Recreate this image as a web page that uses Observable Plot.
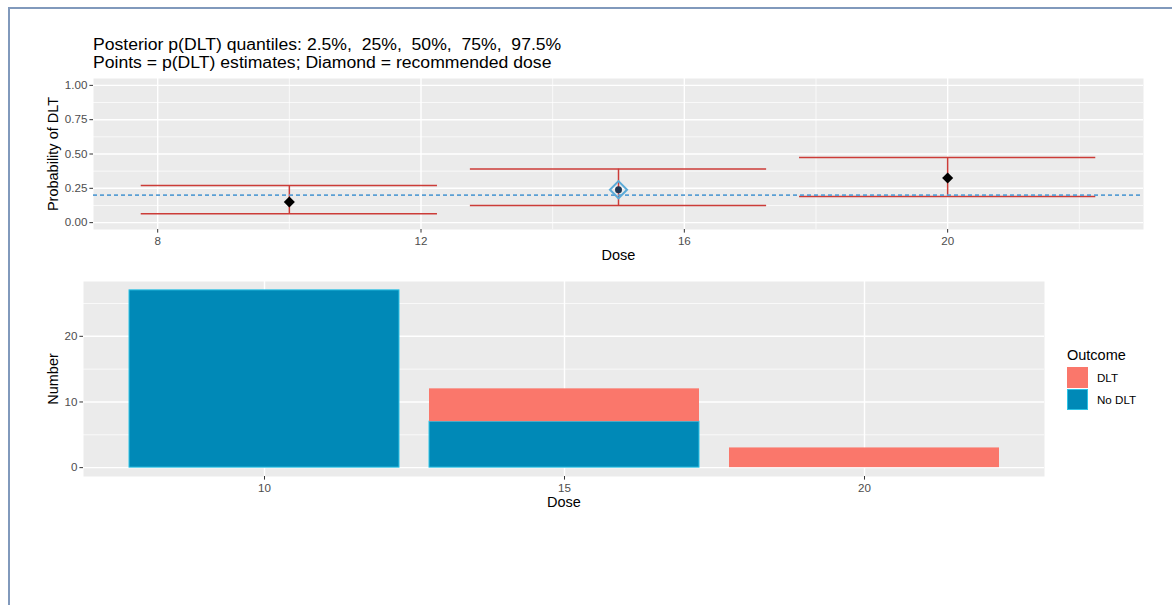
<!DOCTYPE html>
<html>
<head>
<meta charset="utf-8">
<script src="https://cdn.jsdelivr.net/npm/d3@7"></script>
<script src="https://cdn.jsdelivr.net/npm/@observablehq/plot@0.6"></script>
<style>
  body { margin: 0; background: #fff; font-family: "Liberation Sans", Arial, sans-serif; }
  #wrap { position: relative; width: 1172px; height: 605px; overflow: hidden; }
  #frame { position: absolute; left: 8px; top: 7px; right: -10px; bottom: -10px;
           border-left: 2px solid #8199bc; border-top: 2px solid #8199bc; }
  .abs { position: absolute; }
  #title { left: 93px; top: 36px; font-size: 16px; line-height: 18px; color: #000; white-space: pre;
           transform: scaleX(1.1); transform-origin: 0 0; }
  #legend { left: 1067px; top: 344px; font-size: 11.6px; color: #000; }
  #legend .ttl { font-size: 14.5px; height: 22px; line-height: 22px; }
  #legend .row { display: flex; align-items: center; height: 22px; }
  #legend .key { width: 21px; height: 21px; box-sizing: border-box; margin-right: 9px; }
</style>
</head>
<body>
<div id="wrap">
  <div id="frame"></div>
  <div id="title" class="abs"></div>
  <div id="top" class="abs" style="left:0;top:70px;width:1172px;"></div>
  <div id="bottom" class="abs" style="left:0;top:270px;width:1172px;"></div>
  <div id="legend" class="abs"></div>
</div>
<script>
// ---------- data ----------
const titleLines = [
  "Posterior p(DLT) quantiles: 2.5%,  25%,  50%,  75%,  97.5%",
  "Points = p(DLT) estimates; Diamond = recommended dose"
];
const doses = [10, 15, 20];
const pLow  = [0.065, 0.125, 0.19];   // 2.5% quantile
const pHigh = [0.27, 0.39, 0.475];    // 97.5% quantile
const pEst  = [0.15, 0.24, 0.325];    // point estimates
const recommendedDose = 15;
const targetTox = 0.20;
const errorbarHalfWidth = 2.25;

const outcomes = ["DLT", "No DLT"];
const outcomeFill = ["#fa776b", "#0089b7"];
const countDLT   = [0, 5, 3];
const countNoDLT = [27, 7, 0];

const topXTicks = [8, 12, 16, 20];
const topXMinor = [10, 14, 18, 22];
const topYTicks = [0, 0.25, 0.5, 0.75, 1];
const topYMinor = [0.125, 0.375, 0.625, 0.875];
const botYTicks = [0, 10, 20];
const botYMinor = [5, 15, 25];

// ---------- title ----------
const titleEl = document.getElementById("title");
titleLines.forEach(s => { const d = document.createElement("div"); d.textContent = s; titleEl.appendChild(d); });

const font = "Liberation Sans, Arial, sans-serif";
const red = "#cc3c38";

// ---------- top panel ----------
const est = doses.map((d, i) => ({dose: d, lo: pLow[i], hi: pHigh[i], p: pEst[i]}));
const estOther = est.filter(d => d.dose !== recommendedDose);
const estRec = est.filter(d => d.dose === recommendedDose);

const topPlot = Plot.plot({
  width: 1172, height: 200,
  marginLeft: 93, marginRight: 29, marginTop: 8, marginBottom: 41,
  x: {domain: [7.025, 22.975]},
  y: {domain: [-0.05, 1.05]},
  style: {fontFamily: font, background: "transparent", overflow: "visible"},
  marks: [
    Plot.frame({fill: "#ebebeb", stroke: null}),
    Plot.gridY(topYMinor, {stroke: "#fff", strokeOpacity: 1, strokeWidth: 0.7}),
    Plot.gridX(topXMinor, {stroke: "#fff", strokeOpacity: 1, strokeWidth: 0.7}),
    Plot.gridY(topYTicks, {stroke: "#fff", strokeOpacity: 1, strokeWidth: 1.4}),
    Plot.gridX(topXTicks, {stroke: "#fff", strokeOpacity: 1, strokeWidth: 1.4}),
    Plot.ruleX(est, {x: "dose", y1: "lo", y2: "hi", stroke: red, strokeWidth: 1.5}),
    Plot.ruleY(est, {y: "lo", x1: d => d.dose - errorbarHalfWidth, x2: d => d.dose + errorbarHalfWidth, stroke: red, strokeWidth: 1.5}),
    Plot.ruleY(est, {y: "hi", x1: d => d.dose - errorbarHalfWidth, x2: d => d.dose + errorbarHalfWidth, stroke: red, strokeWidth: 1.5}),
    Plot.ruleY([targetTox], {stroke: "#5a9fd4", strokeWidth: 1.7, strokeDasharray: "4,3"}),
    Plot.dot(estOther, {x: "dose", y: "p", symbol: "diamond2", r: 5, fill: "#000", stroke: "none"}),
    Plot.dot(estRec, {x: "dose", y: "p", r: 3.5, fill: "#1c3552", stroke: "none"}),
    Plot.dot(estRec, {x: "dose", y: "p", symbol: "diamond2", r: 7.7, fill: "none", stroke: "#5aaad8", strokeWidth: 2}),
    Plot.axisX(topXTicks, {tickSize: 3.6, tickPadding: 4, stroke: "#333", fill: "#4d4d4d", fontSize: 11.6, label: null, tickFormat: d => String(d)}),
    Plot.axisY(topYTicks, {tickSize: 3.6, tickPadding: 2.5, stroke: "#333", fill: "#4d4d4d", fontSize: 11.6, label: null, tickFormat: d => d.toFixed(2)}),
    Plot.text(["Dose"], {text: d => d, frameAnchor: "bottom", dy: 30, fontSize: 14.5, fill: "#000"}),
    Plot.text(["Probability of DLT"], {text: d => d, frameAnchor: "left", textAnchor: "middle", dx: -40, rotate: -90, fontSize: 14.5, fill: "#000"})
  ]
});
document.getElementById("top").appendChild(topPlot);

// ---------- bottom panel ----------
const rows = [];
doses.forEach((d, i) => rows.push({dose: d, outcome: "No DLT", y1: 0, y2: countNoDLT[i], n: countNoDLT[i]}));
doses.forEach((d, i) => rows.push({dose: d, outcome: "DLT", y1: countNoDLT[i], y2: countNoDLT[i] + countDLT[i], n: countDLT[i]}));
const rowsNo = rows.filter(r => r.outcome === "No DLT" && r.n > 0);
const rowsYes = rows.filter(r => r.outcome === "DLT" && r.n > 0);

const botPlot = Plot.plot({
  width: 1172, height: 260,
  marginLeft: 83, marginRight: 128, marginTop: 11, marginBottom: 54,
  x: {type: "band", domain: doses, paddingInner: 0.1, paddingOuter: 0.15},
  y: {domain: [-1.35, 28.35]},
  color: {domain: outcomes, range: outcomeFill},
  style: {fontFamily: font, background: "transparent", overflow: "visible"},
  marks: [
    Plot.frame({fill: "#ebebeb", stroke: null}),
    Plot.gridY(botYMinor, {stroke: "#fff", strokeOpacity: 1, strokeWidth: 0.7}),
    Plot.gridY(botYTicks, {stroke: "#fff", strokeOpacity: 1, strokeWidth: 1.4}),
    Plot.gridX(doses, {stroke: "#fff", strokeOpacity: 1, strokeWidth: 1.4}),
    Plot.barY(rowsNo, {x: "dose", y1: "y1", y2: "y2", fill: "outcome", stroke: "#2cc3e6", strokeWidth: 1}),
    Plot.barY(rowsYes, {x: "dose", y1: "y1", y2: "y2", fill: "outcome"}),
    Plot.axisX(doses, {tickSize: 3.6, tickPadding: 4, stroke: "#333", fill: "#4d4d4d", fontSize: 11.6, label: null}),
    Plot.axisY(botYTicks, {tickSize: 3.6, tickPadding: 2.5, stroke: "#333", fill: "#4d4d4d", fontSize: 11.6, label: null}),
    Plot.text(["Dose"], {text: d => d, frameAnchor: "bottom", dy: 30, fontSize: 14.5, fill: "#000"}),
    Plot.text(["Number"], {text: d => d, frameAnchor: "left", textAnchor: "middle", dx: -30, rotate: -90, fontSize: 14.5, fill: "#000"})
  ]
});
document.getElementById("bottom").appendChild(botPlot);

// ---------- legend ----------
const leg = document.getElementById("legend");
const t = document.createElement("div");
t.className = "ttl"; t.textContent = "Outcome";
leg.appendChild(t);
outcomes.forEach((o, i) => {
  const r = document.createElement("div"); r.className = "row";
  const k = document.createElement("div"); k.className = "key";
  k.style.background = outcomeFill[i];
  if (o === "No DLT") k.style.border = "1px solid #2cc3e6";
  const l = document.createElement("span"); l.textContent = o;
  r.appendChild(k); r.appendChild(l); leg.appendChild(r);
});
</script>
</body>
</html>
